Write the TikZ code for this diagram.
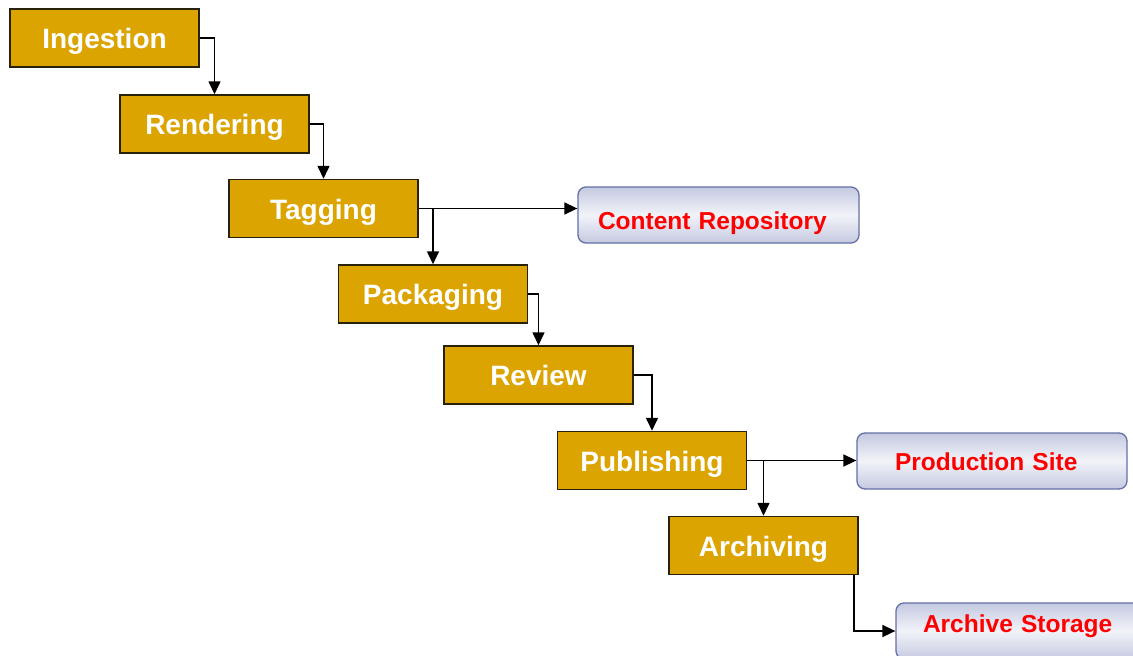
\documentclass[tikz,border=0pt]{standalone}
\usepackage{fontspec}
\setmainfont{Liberation Sans}
\usetikzlibrary{arrows.meta,calc}
\definecolor{gold}{RGB}{220,164,0}
\definecolor{goldline}{RGB}{40,34,10}
\definecolor{blueline}{RGB}{100,112,168}
\definecolor{bluedark}{RGB}{196,201,224}
\definecolor{bluelight}{RGB}{242,243,249}
\tikzset{
  stagebox/.style={draw=goldline, line width=1.5pt, fill=gold, minimum width=189pt, minimum height=58pt,
    inner sep=0pt, text height=21pt, text depth=0pt, text=white, font=\fontsize{28}{30}\selectfont\bfseries},
  targetbox/.style={draw=blueline, line width=1.3pt, rounded corners=8pt,
    top color=bluedark, bottom color=bluedark, middle color=bluelight,
    minimum height=56pt, inner xsep=0pt, inner ysep=0pt, align=left, text depth=0pt,
    text=red, font=\fontsize{24.5}{26}\selectfont\bfseries},
  arr/.style={draw=black, line width=1.6pt, -{Triangle[length=13pt,width=12pt]}}
}
\begin{document}
\begin{tikzpicture}[x=1pt,y=-1pt]
\useasboundingbox (0,0) rectangle (1133,656);
\clip (0,0) rectangle (1133,656);
\fill[white] (0,0) rectangle (1133,656);
\node[stagebox] (ing)  at (104.5,38)  {Ingestion};
\node[stagebox] (ren)  at (214.5,124) {Rendering};
\node[stagebox] (tag)  at (323.5,208.5) {Tagging};
\node[stagebox] (pack) at (433,294)   {Packaging};
\node[stagebox] (rev)  at (538.5,375) {Review};
\node[stagebox] (pub)  at (652,460.5) {Publishing};
\node[stagebox] (arc)  at (763.5,545.5) {Archiving};
\node[targetbox, text width=281pt, text height=28pt] (cr) at (718.5,215) {\hspace*{20pt}Content Repository};
\node[targetbox, text width=270pt, text height=19.4pt] (ps) at (992,461) {\hspace*{38pt}Production Site};
\node[targetbox, text width=270pt, text height=2pt] (as) at (1031,631) {\hspace*{27pt}Archive Storage};
\draw[arr] (ing.east) -| (ren.north);
\draw[arr] (ren.east) -| (tag.north);
\draw[arr] (tag.east) -- (tag.east -| cr.west);
\draw[arr] (tag.east) -| (pack.north);
\draw[arr] (pack.east) -| (rev.north);
\draw[arr] (rev.east) -| (pub.north);
\draw[arr] (pub.east) -- (pub.east -| ps.west);
\draw[arr] (pub.east) -| (arc.north);
\draw[arr] ([xshift=-5pt]arc.south east) |- (as.west);
\end{tikzpicture}
\end{document}
